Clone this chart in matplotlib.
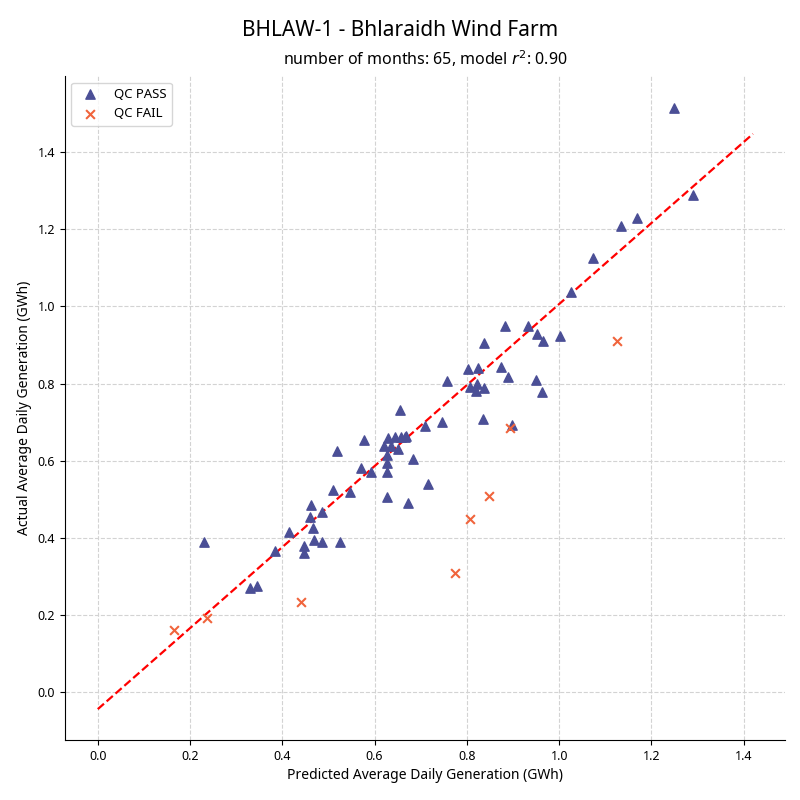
import matplotlib
matplotlib.use("Agg")
import matplotlib.pyplot as plt
import numpy as np

plt.rcParams["font.family"] = ["Noto Sans", "DejaVu Sans"]

TITLE = "BHLAW-1 - Bhlaraidh Wind Farm"
SUBTITLE = "number of months: 65, model $r^2$: 0.90"

pass_x = [0.23, 0.33, 0.345, 0.385, 0.415, 0.447, 0.447, 0.46, 0.462, 0.467, 0.468,
          0.487, 0.487, 0.525, 0.51, 0.518, 0.546, 0.57, 0.578, 0.592, 0.62, 0.626,
          0.626, 0.626, 0.626, 0.629, 0.636, 0.644, 0.65, 0.657, 0.665, 0.655, 0.667,
          0.672, 0.683, 0.709, 0.715, 0.746, 0.756, 0.802, 0.806, 0.819, 0.821, 0.824,
          0.834, 0.836, 0.838, 0.873, 0.882, 0.89, 0.897, 0.932, 0.949, 0.951, 0.962,
          0.966, 1.001, 1.025, 1.073, 1.133, 1.168, 1.248, 1.29]
pass_y = [0.39, 0.27, 0.275, 0.365, 0.415, 0.378, 0.36, 0.455, 0.485, 0.425, 0.395,
          0.467, 0.39, 0.39, 0.525, 0.625, 0.518, 0.58, 0.653, 0.57, 0.638, 0.505,
          0.57, 0.593, 0.615, 0.659, 0.638, 0.661, 0.63, 0.661, 0.661, 0.731, 0.663,
          0.49, 0.604, 0.69, 0.539, 0.70, 0.806, 0.837, 0.79, 0.78, 0.80, 0.84,
          0.708, 0.905, 0.788, 0.843, 0.949, 0.817, 0.692, 0.949, 0.809, 0.928, 0.778,
          0.91, 0.923, 1.037, 1.125, 1.208, 1.229, 1.514, 1.289]
fail_x = [0.165, 0.236, 0.44, 0.774, 0.806, 0.847, 0.893, 1.125]
fail_y = [0.161, 0.192, 0.233, 0.309, 0.449, 0.508, 0.684, 0.91]

fit_slope, fit_intercept = 1.05, -0.044
fit_x = [0.0, 1.42]

fig = plt.figure(figsize=(8, 8), dpi=100)
ax = fig.add_axes([0.081, 0.075, 0.9, 0.83])
ax.scatter(pass_x, pass_y, marker="^", s=45, color="#4b4f96", label="QC PASS", zorder=3)
ax.scatter(fail_x, fail_y, marker="x", s=40, color="#f0643c", label="QC FAIL", zorder=3)
fx = np.array(fit_x)
ax.plot(fx, fit_slope * fx + fit_intercept, "--", color="red", lw=1.6, zorder=2)

ax.set_xlim(-0.0715, 1.489)
ax.set_ylim(-0.124, 1.597)
ax.set_xticks(np.arange(0, 1.41, 0.2))
ax.set_yticks(np.arange(0, 1.41, 0.2))
ax.grid(True, ls="--", color="#d3d3d3", lw=0.8)
ax.set_axisbelow(True)
for s in ("top", "right"):
    ax.spines[s].set_visible(False)
ax.tick_params(labelsize=9)
ax.set_xlabel("Predicted Average Daily Generation (GWh)", fontsize=10)
ax.set_ylabel("Actual Average Daily Generation (GWh)", fontsize=10)
ax.set_title(SUBTITLE, fontsize=11.5, pad=8)
fig.suptitle(TITLE, fontsize=15, y=0.975)
ax.legend(loc="upper left", fontsize=9.5)

fig.savefig("out.png", dpi=100)
